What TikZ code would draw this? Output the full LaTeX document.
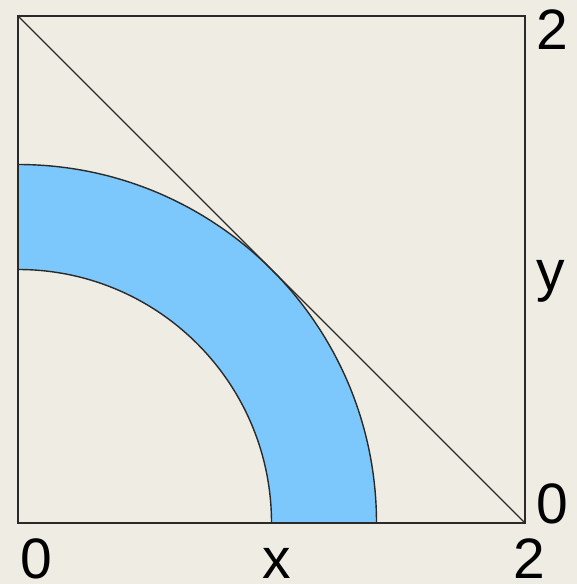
\documentclass[tikz,border=0pt]{standalone}
\usepackage{fontspec}
\setmainfont{Liberation Sans}
\definecolor{bgc}{HTML}{EFECE3}
\definecolor{band}{HTML}{7CC8FD}
\definecolor{ln}{HTML}{2A2A2A}
\begin{document}
\begin{tikzpicture}[x=1pt,y=1pt,
  lab/.style={inner sep=0pt,font=\fontsize{57}{57}\selectfont},
  thin line/.style={draw=ln,line width=1.4pt}]
\fill[bgc] (-18,-61) rectangle (559,523);
\useasboundingbox (-18,-61) rectangle (559,523);
\def\ri{253.5}
\def\ro{358.5}
\fill[band] (\ri,0) -- (\ro,0) arc[start angle=0,end angle=90,radius=\ro] -- (0,\ri) arc[start angle=90,end angle=0,radius=\ri] -- cycle;
\draw[thin line] (\ro,0) arc[start angle=0,end angle=90,radius=\ro];
\draw[thin line] (\ri,0) arc[start angle=0,end angle=90,radius=\ri];
\coordinate (O) at (0,0);
\coordinate (BR) at (507,0);
\coordinate (TL) at (0,507);
\coordinate (TR) at (507,507);
\draw[thin line] (O) rectangle (TR);
\draw[thin line] (TL) -- (BR);
\node[lab,anchor=base west] (t2) at (518,473) {2};
\node[lab,anchor=base west] (ty) at (518,232) {y};
\node[lab,anchor=base west] (t0) at (518,0) {0};
\node[lab,anchor=base] (b0) at (18,-55) {0};
\node[lab,anchor=base] (bx) at (259,-55) {x};
\node[lab,anchor=base] (b2) at (511,-55) {2};
\end{tikzpicture}
\end{document}
